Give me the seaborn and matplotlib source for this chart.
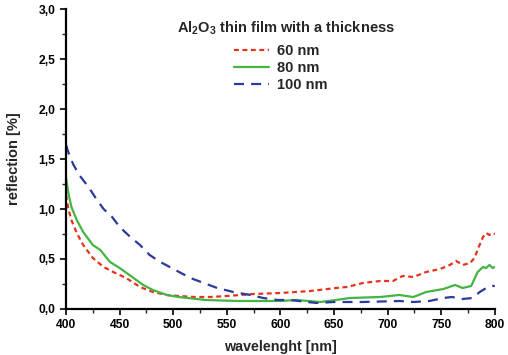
import pandas as pd
import matplotlib
matplotlib.use("Agg")
import matplotlib.pyplot as plt
import seaborn as sns
from matplotlib.ticker import MultipleLocator, FuncFormatter

# valores
wl_60 = [400, 402, 405, 410, 416, 425, 435, 444, 456, 469, 481, 494, 505, 520, 535, 550,
         575, 600, 628, 652, 662, 677, 693, 705, 714, 724, 736, 749, 758, 764, 770, 777,
         781, 785, 789, 792, 795, 798, 800]
r_60 = [1.14, 1.01, 0.89, 0.76, 0.64, 0.51, 0.42, 0.37, 0.31, 0.22, 0.17, 0.14, 0.13, 0.12,
        0.12, 0.13, 0.15, 0.16, 0.18, 0.21, 0.22, 0.26, 0.28, 0.28, 0.33, 0.32, 0.37, 0.40,
        0.44, 0.48, 0.44, 0.46, 0.51, 0.62, 0.72, 0.76, 0.74, 0.76, 0.75]

wl_80 = [400, 402, 405, 410, 416, 425, 432, 441, 450, 463, 472, 481, 494, 505, 530, 560,
         600, 615, 637, 652, 665, 693, 711, 724, 736, 752, 763, 770, 778, 784, 789, 792,
         795, 798, 800]
r_80 = [1.31, 1.17, 1.02, 0.89, 0.77, 0.64, 0.59, 0.47, 0.41, 0.31, 0.24, 0.19, 0.14, 0.12,
        0.09, 0.08, 0.08, 0.09, 0.07, 0.09, 0.11, 0.12, 0.14, 0.12, 0.17, 0.20, 0.24, 0.21,
        0.23, 0.37, 0.42, 0.41, 0.44, 0.41, 0.42]

wl_100 = [400, 403, 407, 413, 421, 427, 435, 443, 450, 460, 469, 478, 488, 502, 516, 541,
          556, 572, 584, 597, 609, 625, 634, 650, 677, 711, 724, 739, 752, 760, 770, 779,
          786, 792, 798, 800]
r_100 = [1.64, 1.54, 1.44, 1.33, 1.22, 1.12, 1.0, 0.92, 0.82, 0.72, 0.64, 0.54, 0.47, 0.39,
         0.31, 0.21, 0.17, 0.14, 0.11, 0.09, 0.09, 0.07, 0.06, 0.07, 0.07, 0.08, 0.07, 0.08,
         0.11, 0.12, 0.10, 0.11, 0.17, 0.21, 0.23, 0.23]

etiquetas = ["60 nm", "80 nm", "100 nm"]
titulo_leyenda = "Al$_2$O$_3$ thin film with a thickness"

sns.set_style("ticks")
plt.rcParams['font.family'] = ['Liberation Sans', 'DejaVu Sans']
plt.rcParams['font.weight'] = 'bold'
plt.rcParams['mathtext.fontset'] = 'custom'
plt.rcParams['mathtext.rm'] = 'Liberation Sans:bold'
plt.rcParams['mathtext.bf'] = 'Liberation Sans:bold'
plt.rcParams['mathtext.default'] = 'bf'

fig = plt.figure(figsize=(5.08, 3.55), dpi=100)
ax = fig.add_axes([0.13, 0.1296, 0.844, 0.845])

series = [
    (wl_60, r_60, "#e8321e", (0, (2.2, 1.6))),
    (wl_80, r_80, "#44b444", "-"),
    (wl_100, r_100, "#2b3a9c", (0, (4.5, 3.2))),
]
for (wl, r, color, ls), lab in zip(series, etiquetas):
    df = pd.DataFrame({"wl": wl, "r": r})
    sns.lineplot(data=df, x="wl", y="r", color=color, linestyle=ls, linewidth=1.6,
                 label=lab, ax=ax)

ax.set_xlim(400, 800)
ax.set_ylim(0, 3.0)
ax.xaxis.set_major_locator(MultipleLocator(50))
ax.xaxis.set_minor_locator(MultipleLocator(25))
ax.yaxis.set_major_locator(MultipleLocator(0.5))
ax.yaxis.set_minor_locator(MultipleLocator(0.25))
ax.yaxis.set_major_formatter(FuncFormatter(lambda v, p: f"{v:.1f}".replace(".", ",")))

for s in ["top", "right"]:
    ax.spines[s].set_visible(False)
for s in ["left", "bottom"]:
    ax.spines[s].set_linewidth(1.6)
    ax.spines[s].set_color("black")
ax.tick_params(which="major", length=4, width=1.2, labelsize=8.7, colors="black", direction="out")
ax.tick_params(which="minor", length=3, width=1.0, direction="out")
for t in ax.get_xticklabels() + ax.get_yticklabels():
    t.set_fontweight("bold")

ax.set_xlabel("wavelenght [nm]", fontsize=10.3, fontweight="bold", labelpad=6)
ax.set_ylabel("reflection [%]", fontsize=10.5, fontweight="bold", labelpad=13)

# titulo de la leyenda como texto aparte
fig.text(286 / 508, 1 - 32.5 / 355, titulo_leyenda, ha="center", va="baseline",
         fontsize=10.5, fontweight="bold")

leg = ax.legend(frameon=False, loc="upper left",
                bbox_to_anchor=(234 / 508, 1 - 44 / 355),
                bbox_transform=fig.transFigure,
                prop={"weight": "bold", "size": 10.5}, handlelength=2.4,
                handletextpad=0.55, labelspacing=0.2, borderpad=0, borderaxespad=0)

plt.savefig("out.png", dpi=100)
plt.close(fig)
